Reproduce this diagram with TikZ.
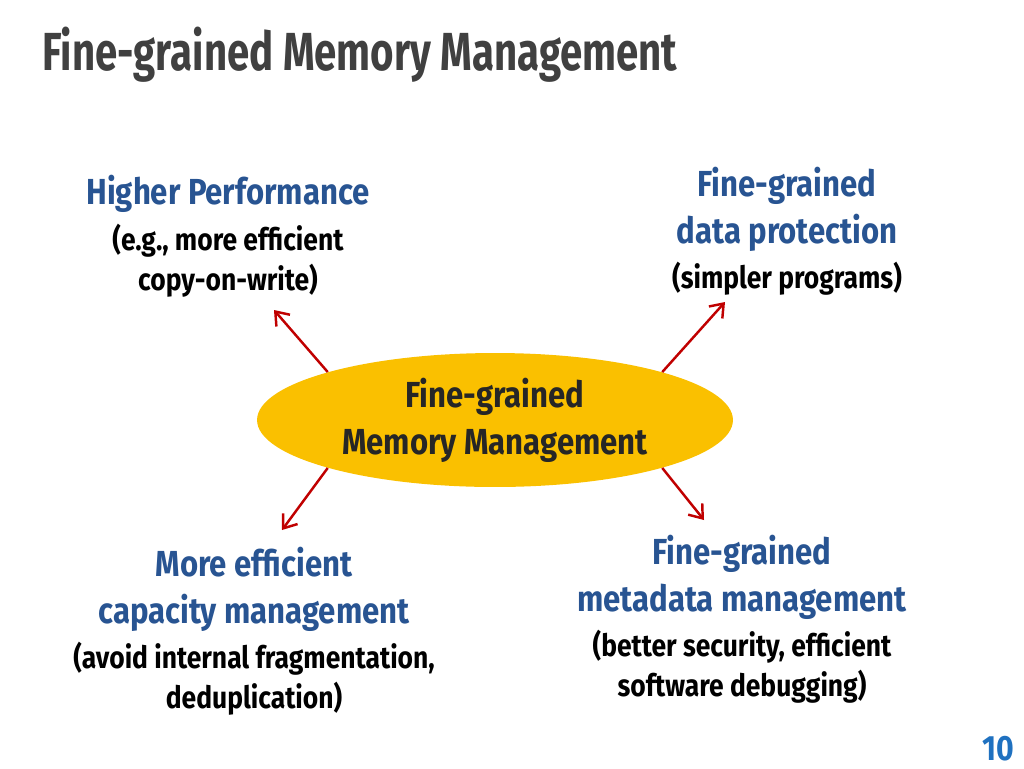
\documentclass[tikz,border=0pt]{standalone}
\usepackage{fontspec}
\setmainfont{Fira Sans}[FakeStretch=0.86]
\newfontfamily\titlefont{Fira Sans}[FakeStretch=0.75]
\usepackage{xcolor}
\definecolor{TitleGray}{RGB}{64,64,64}
\definecolor{HeadBlue}{RGB}{40,84,146}
\definecolor{CoreYellow}{RGB}{250,192,0}
\definecolor{ArrowRed}{RGB}{192,0,0}
\definecolor{PageBlue}{RGB}{31,113,192}
\usetikzlibrary{positioning,arrows.meta,shapes.geometric}

\begin{document}
\begin{tikzpicture}[x=0.02cm, y=-0.02cm,
    hd/.style={align=center, text=HeadBlue, inner sep=0pt,
              font=\fontsize{20.6}{26.6}\selectfont\bfseries},
    sb/.style={align=center, text=black, inner sep=0pt,
              font=\fontsize{17.5}{22.7}\selectfont\bfseries},
    core/.style={ellipse, fill=CoreYellow, minimum width=9.52cm, minimum height=2.68cm,
              inner sep=0pt, align=center, text={black!85},
              font=\fontsize{20.6}{26.6}\selectfont\bfseries},
    a/.style={-{Straight Barb[length=2.4mm, width=3.6mm]}, line width=1.4pt, draw=ArrowRed}
]
    \useasboundingbox (0,0) rectangle (1024,768);
    \node[anchor=base west, inner sep=0pt, text=TitleGray,
          font=\titlefont\fontsize{30.5}{36}\selectfont\bfseries] (title) at (42,70)
          {Fine-grained Memory Management};
    \node[core] (mm) at (495,420) {Fine-grained\\ Memory Management};

    \node[hd] (perf) at (228,194) {Higher Performance};
    \node[sb, below=6pt of perf] (perfsub) {(e.g., more efficient\\ copy-on-write)};
    \node[hd] (prot) at (787,209) {Fine-grained\\ data protection};
    \node[sb, below=6pt of prot] (protsub) {(simpler programs)};
    \node[hd] (cap) at (254,589) {More efficient\\ capacity management};
    \node[sb, below=6pt of cap] (capsub) {(avoid internal fragmentation,\\ deduplication)};
    \node[hd] (meta) at (742,577) {Fine-grained\\ metadata management};
    \node[sb, below=6pt of meta] (metasub) {(better security, efficient\\ software debugging)};

    \node[anchor=base, inner sep=0pt, text=PageBlue,
          font=\fontsize{20}{24}\selectfont\bfseries] (page) at (998,760) {10};

    \coordinate (perfend) at (274,310);
    \coordinate (protend) at (725,302);
    \coordinate (capend) at (282,530);
    \coordinate (metaend) at (704,520);
    \draw[a] (mm.164) -- (perfend);
    \draw[a] (mm.16) -- (protend);
    \draw[a] (mm.196) -- (capend);
    \draw[a] (mm.344) -- (metaend);
\end{tikzpicture}
\end{document}
